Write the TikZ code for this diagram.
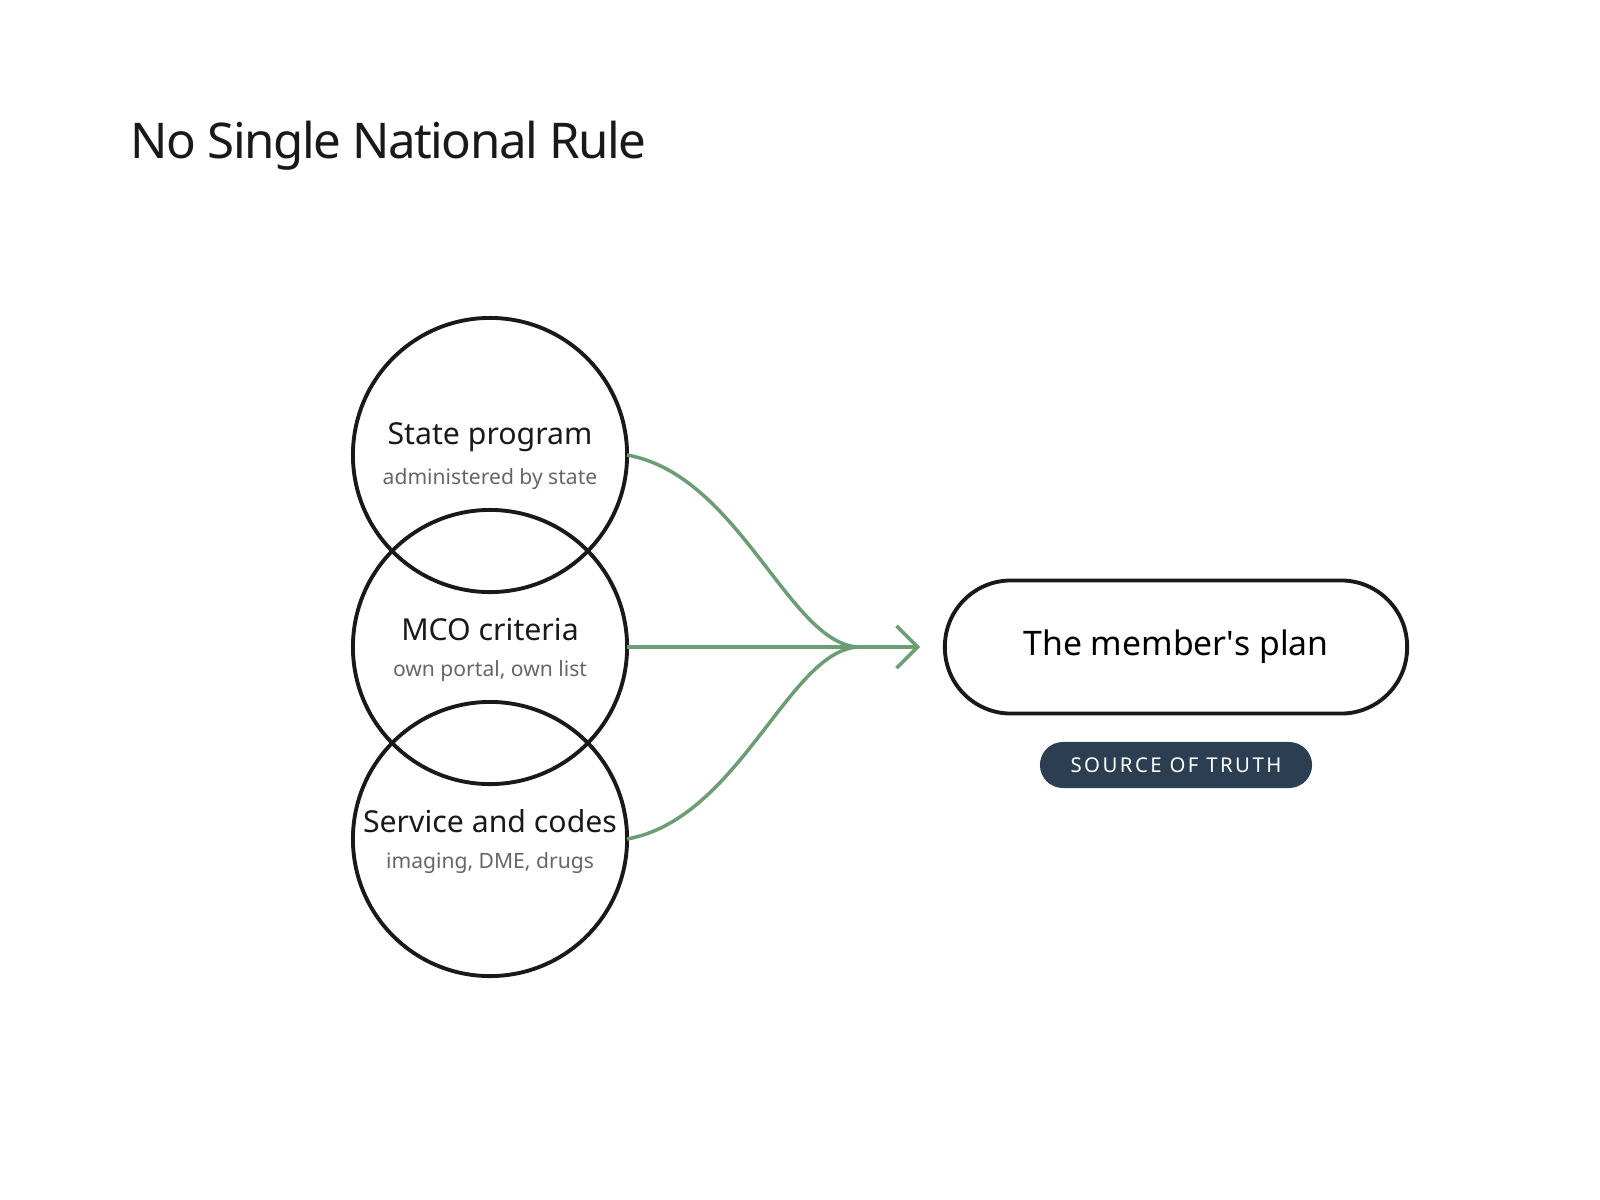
\documentclass[tikz,border=0pt]{standalone}
\usepackage{fontspec}
\setmainfont{Noto Sans}
\usetikzlibrary{arrows.meta}
\definecolor{lk}{HTML}{6B9E74}
\definecolor{badge}{HTML}{2C3E52}
\definecolor{sub}{HTML}{666666}
\begin{document}
\begin{tikzpicture}[x=0.01cm,y=-0.01cm,
  circ/.style={circle,draw=black!90,line width=1.1pt,minimum size=2.74cm,inner sep=0pt},
  ttl/.style={font=\fontsize{8.6}{10}\selectfont,text=black!90},
  subt/.style={font=\fontsize{6}{7}\selectfont,text=sub},
  link/.style={draw=lk,line width=1pt}]
\useasboundingbox (0,0) rectangle (1600,1200);
\node[anchor=base west,font=\fontsize{14}{17}\selectfont\addfontfeature{LetterSpace=-3},text=black!90] (title) at (118,158) {No Single National Rule};
\node[circ] (c1) at (490,455) {};
\node[circ] (c2) at (490,647) {};
\node[circ] (c3) at (490,839) {};
\node[ttl] (t1) at (490,437) {State program};
\node[subt] (s1) at (490,479) {administered by state};
\node[ttl] (t2) at (490,629) {MCO criteria};
\node[subt] (s2) at (490,671) {own portal, own list};
\node[ttl] (t3) at (490,821) {Service and codes};
\node[subt] (s3) at (490,863) {imaging, DME, drugs};
\coordinate (j) at (860,647);
\coordinate (e) at (920,647);
\coordinate (o1) at (627,455);
\coordinate (o2) at (627,647);
\coordinate (o3) at (627,839);
\draw[link] (o1) .. controls (740,475) and (790,647) .. (j);
\draw[link] (o3) .. controls (740,819) and (790,647) .. (j);
\draw[link] (o2) -- (j);
\draw[link,-{Straight Barb[length=6pt,width=12pt]}] (j) -- (e);
\node[draw=black!90,line width=1.1pt,rounded corners=0.66cm,minimum width=4.62cm,minimum height=1.33cm,font=\fontsize{9.6}{11}\selectfont] (plan) at (1176,647) {The member\textquotesingle s plan};
\node[fill=badge,rounded corners=0.23cm,minimum width=2.72cm,minimum height=0.46cm,text=white,font=\fontsize{5.8}{7}\selectfont\addfontfeature{LetterSpace=12}] (b) at (1176,765) {SOURCE OF TRUTH};
\end{tikzpicture}
\end{document}
